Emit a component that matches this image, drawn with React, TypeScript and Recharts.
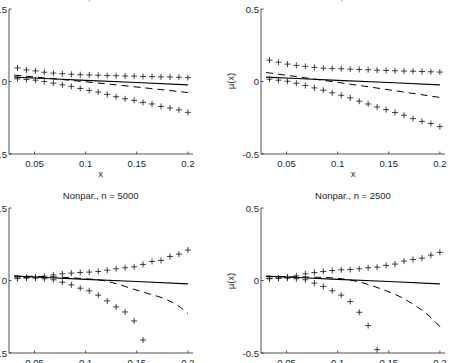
import React from "react";
import { ComposedChart, Line, Scatter, XAxis, YAxis } from "recharts";

// grid of evaluation points for the pointwise bands
const xGrid = [
  0.0333, 0.0421, 0.0509, 0.0596, 0.0684, 0.0772, 0.086, 0.0947, 0.1035, 0.1123,
  0.1211, 0.1298, 0.1386, 0.1474, 0.1561, 0.1649, 0.1737, 0.1825, 0.1912, 0.2,
];

const xTicks = [0.05, 0.1, 0.15, 0.2];
const yTicks = [-0.5, 0, 0.5];

// true drift function
const trueX = [0.03, 0.06, 0.1, 0.15, 0.2];
const trueY = [0.03, 0.021, 0.008, -0.007, -0.023];

// parametric, n = 5000
const par5000Upper = [
  0.094, 0.08, 0.073, 0.064, 0.058, 0.054, 0.05, 0.047, 0.045, 0.043,
  0.041, 0.04, 0.038, 0.037, 0.035, 0.034, 0.032, 0.031, 0.029, 0.027,
];
const par5000Lower = [
  0.018, 0.014, 0.009, 0.0, -0.011, -0.023, -0.034, -0.048, -0.062, -0.073,
  -0.089, -0.105, -0.119, -0.13, -0.144, -0.155, -0.172, -0.183, -0.196, -0.213,
];
const par5000MeanX = [0.03, 0.1, 0.2];
const par5000MeanY = [0.044, -0.002, -0.076];

// parametric, n = 2500
const par2500Upper = [
  0.147, 0.133, 0.12, 0.111, 0.104, 0.097, 0.092, 0.09, 0.088, 0.085,
  0.083, 0.081, 0.078, 0.076, 0.074, 0.072, 0.071, 0.069, 0.067, 0.065,
];
const par2500Lower = [
  0.016, 0.009, 0.002, -0.012, -0.028, -0.044, -0.06, -0.078, -0.095, -0.113,
  -0.136, -0.155, -0.176, -0.194, -0.214, -0.233, -0.256, -0.275, -0.29, -0.311,
];
const par2500MeanX = [0.03, 0.1, 0.2];
const par2500MeanY = [0.062, -0.006, -0.11];

// nonparametric, n = 5000 (lower band leaves the window after 0.156)
const np5000Upper = [
  0.018, 0.021, 0.023, 0.03, 0.039, 0.046, 0.051, 0.055, 0.058, 0.062,
  0.071, 0.081, 0.088, 0.094, 0.111, 0.131, 0.138, 0.166, 0.182, 0.21,
];
const np5000Lower = [
  0.014, 0.016, 0.016, 0.012, 0.005, -0.012, -0.03, -0.053, -0.071, -0.101,
  -0.141, -0.182, -0.217, -0.279, -0.41,
];
const np5000MeanX = [0.03, 0.06, 0.08, 0.1, 0.115, 0.13, 0.146, 0.16, 0.18, 0.19, 0.2];
const np5000MeanY = [0.03, 0.027, 0.021, 0.012, 0.002, -0.022, -0.058, -0.088, -0.134, -0.172, -0.228];

// nonparametric, n = 2500
const np2500Upper = [
  0.014, 0.016, 0.023, 0.032, 0.046, 0.055, 0.062, 0.069, 0.074, 0.076,
  0.081, 0.088, 0.092, 0.104, 0.113, 0.134, 0.145, 0.154, 0.175, 0.194,
];
const np2500Lower = [
  0.012, 0.016, 0.016, 0.012, 0.005, -0.018, -0.041, -0.071, -0.101, -0.145,
  -0.219, -0.311, -0.477,
];
const np2500MeanX = [0.03, 0.06, 0.08, 0.1, 0.12, 0.144, 0.16, 0.177, 0.19, 0.2];
const np2500MeanY = [0.026, 0.025, 0.022, 0.015, -0.008, -0.062, -0.108, -0.178, -0.248, -0.318];

const FONT = '"Liberation Sans", Arial, Helvetica, sans-serif';
const INK = "#262626";
const FS = 9.5;

// plot box inside each chart
const PLOT_W = 184;
const PLOT_H = 145;
const M_LEFT = 40;
const M_TOP = 24;
const M_RIGHT = 8;
const AXIS_H = 30;
const TICK_LEN = 2.5;

const pairs = (xs: number[], ys: number[]) => ys.map((y, i) => ({ x: xs[i], y }));

const Plus = (props: any) => {
  const { cx, cy } = props;
  if (cx == null || cy == null) return null;
  return (
    <path
      d={`M${cx - 3},${cy}h6M${cx},${cy - 3}v6`}
      stroke="#111"
      strokeWidth={0.8}
      fill="none"
    />
  );
};

const YTick = (props: any) => {
  const { y, payload } = props;
  return (
    <g>
      <line x1={M_LEFT} x2={M_LEFT + TICK_LEN} y1={y} y2={y} stroke={INK} strokeWidth={0.8} />
      <text
        x={M_LEFT - 2}
        y={y}
        textAnchor="end"
        dominantBaseline="central"
        fontSize={FS}
        fontFamily={FONT}
        fill={INK}
      >
        {payload.value}
      </text>
    </g>
  );
};

const XTick = (props: any) => {
  const { x, payload } = props;
  const base = M_TOP + PLOT_H;
  return (
    <g>
      <line x1={x} x2={x} y1={base} y2={base - TICK_LEN} stroke={INK} strokeWidth={0.8} />
      <text
        x={x}
        y={base + 9}
        textAnchor="middle"
        dominantBaseline="central"
        fontSize={FS}
        fontFamily={FONT}
        fill={INK}
      >
        {payload.value}
      </text>
    </g>
  );
};

type PanelProps = {
  title: string;
  plotLeft: number;
  plotTop: number;
  upper: number[];
  lower: number[];
  meanX: number[];
  meanY: number[];
};

const Panel = ({ title, plotLeft, plotTop, upper, lower, meanX, meanY }: PanelProps) => {
  const w = M_LEFT + PLOT_W + M_RIGHT;
  const h = M_TOP + PLOT_H + AXIS_H;
  const labelStyle: React.CSSProperties = {
    position: "absolute",
    fontFamily: FONT,
    fontSize: FS,
    color: INK,
    lineHeight: "12px",
    height: 12,
    textAlign: "center",
    whiteSpace: "nowrap",
  };
  return (
    <div
      style={{
        position: "absolute",
        left: plotLeft - M_LEFT,
        top: plotTop - M_TOP,
        width: w,
        height: h,
      }}
    >
      <ComposedChart
        width={w}
        height={h}
        margin={{ top: M_TOP, right: M_RIGHT, left: 0, bottom: 0 }}
      >
        <XAxis
          type="number"
          dataKey="x"
          domain={[0.025, 0.205]}
          allowDataOverflow
          ticks={xTicks}
          tick={<XTick />}
          tickLine={false}
          tickSize={0}
          height={AXIS_H}
          axisLine={{ stroke: INK, strokeWidth: 0.8 }}
        />
        <YAxis
          type="number"
          dataKey="y"
          domain={[-0.5, 0.5]}
          allowDataOverflow
          ticks={yTicks}
          tick={<YTick />}
          tickLine={false}
          tickSize={0}
          width={M_LEFT}
          axisLine={{ stroke: INK, strokeWidth: 0.8 }}
        />
        <Line
          data={pairs(trueX, trueY)}
          dataKey="y"
          type="linear"
          stroke="#000"
          strokeWidth={1.1}
          dot={false}
          activeDot={false}
          isAnimationActive={false}
        />
        <Line
          data={pairs(meanX, meanY)}
          dataKey="y"
          type="monotone"
          stroke="#000"
          strokeWidth={1}
          strokeDasharray="7 5"
          dot={false}
          activeDot={false}
          isAnimationActive={false}
        />
        <Scatter data={pairs(xGrid, upper)} shape={<Plus />} isAnimationActive={false} />
        <Scatter data={pairs(xGrid, lower)} shape={<Plus />} isAnimationActive={false} />
      </ComposedChart>
      <div style={{ ...labelStyle, left: M_LEFT, width: PLOT_W, top: M_TOP - 18 }}>{title}</div>
      <div style={{ ...labelStyle, left: M_LEFT, width: PLOT_W, top: M_TOP + PLOT_H + 14 }}>x</div>
      <div
        style={{
          ...labelStyle,
          left: M_LEFT - 30 - 20,
          width: 40,
          top: M_TOP + PLOT_H / 2 - 6,
          transform: "rotate(-90deg)",
        }}
      >
        μ(x)
      </div>
    </div>
  );
};

export default function App() {
  return (
    <div
      style={{
        position: "absolute",
        left: 0,
        top: 0,
        width: 450,
        height: 363,
        overflow: "hidden",
        background: "#fff",
      }}
    >
      <Panel
        title="Par., n = 5000"
        plotLeft={8.7}
        plotTop={8.5}
        upper={par5000Upper}
        lower={par5000Lower}
        meanX={par5000MeanX}
        meanY={par5000MeanY}
      />
      <Panel
        title="Par., n = 2500"
        plotLeft={261}
        plotTop={8.5}
        upper={par2500Upper}
        lower={par2500Lower}
        meanX={par2500MeanX}
        meanY={par2500MeanY}
      />
      <Panel
        title="Nonpar., n = 5000"
        plotLeft={8.7}
        plotTop={208.4}
        upper={np5000Upper}
        lower={np5000Lower}
        meanX={np5000MeanX}
        meanY={np5000MeanY}
      />
      <Panel
        title="Nonpar., n = 2500"
        plotLeft={261}
        plotTop={208.4}
        upper={np2500Upper}
        lower={np2500Lower}
        meanX={np2500MeanX}
        meanY={np2500MeanY}
      />
    </div>
  );
}
